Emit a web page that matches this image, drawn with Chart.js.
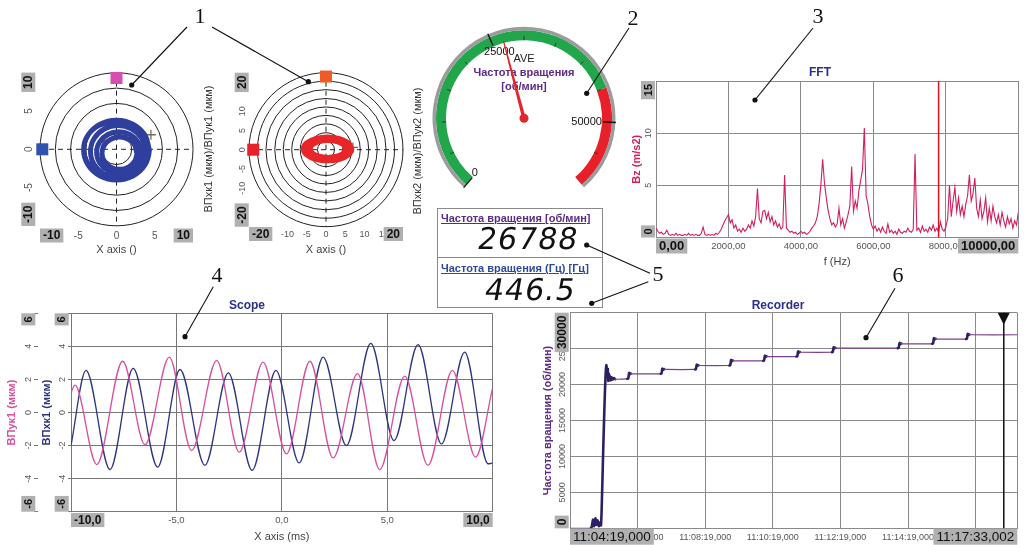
<!DOCTYPE html>
<html>
<head>
<meta charset="utf-8">
<title>Vibration monitor</title>
<script src="https://cdn.jsdelivr.net/npm/chart.js@4.4.1/dist/chart.umd.min.js"></script>
<style>
  html, body { margin: 0; padding: 0; background: #fff; }
  #page { position: relative; width: 1034px; height: 545px; overflow: hidden; font-family: 'Liberation Sans', Arial, sans-serif; }
  .panel { position: absolute; }
  .panel canvas { display: block; }
  .lbl { position: absolute; white-space: nowrap; transform: translate(-50%, -50%); }
  .lbl.rot { transform: translate(-50%, -50%) rotate(-90deg); }
  .ttl { font-weight: bold; font-size: 12px; color: #2b2f8c; }
  .orbt { font-size: 11px; color: #333; }
  #digital { position: absolute; left: 437px; top: 208px; width: 164px; height: 98px; border: 1px solid #8a8a8a; }
  .dcell { position: absolute; left: 0; width: 164px; height: 48px; }
  .dcap { position: absolute; left: 3px; font-size: 11px; font-weight: bold; text-decoration: underline; white-space: nowrap; }
  .dval { position: absolute; font-family: 'DejaVu Sans', sans-serif; font-size: 30px; line-height: 30px; transform: skewX(-10deg); letter-spacing: 1px; color: #111; }
  #notes { position: absolute; left: 0; top: 0; }
</style>
</head>
<body>
<div id="page">
  <div class="panel" style="left:0;top:60px;width:225px;height:205px"><canvas id="orbit1"></canvas></div>
  <div class="panel" style="left:222px;top:60px;width:210px;height:205px"><canvas id="orbit2"></canvas></div>
  <div class="panel" style="left:424px;top:17px;width:200px;height:180px"><canvas id="gauge"></canvas></div>
  <div class="panel" style="left:630px;top:60px;width:404px;height:210px"><canvas id="fft"></canvas></div>
  <div class="panel" style="left:0;top:295px;width:510px;height:250px"><canvas id="scope"></canvas></div>
  <div class="panel" style="left:510px;top:295px;width:524px;height:250px"><canvas id="recorder"></canvas></div>

  <div class="lbl rot orbt" style="left:208px;top:149px">ВПхк1 (мкм)/ВПук1 (мкм)</div>
  <div class="lbl rot orbt" style="left:417px;top:151px">ВПхк2 (мкм)/ВПук2 (мкм)</div>
  <div class="lbl ttl" style="left:820px;top:72px">FFT</div>
  <div class="lbl ttl" style="left:247px;top:305px">Scope</div>
  <div class="lbl ttl" style="left:778px;top:305px">Recorder</div>

  <div id="digital">
    <div class="dcell" style="top:0">
      <div class="dcap" style="top:3px;color:#5c2a87">Частота вращения [об/мин]</div>
      <div class="dval" style="top:15px;right:24px">26788</div>
    </div>
    <div class="dcell" style="top:48px;border-top:1px solid #8a8a8a">
      <div class="dcap" style="top:4px;color:#2b4a9c">Частота вращения (Гц) [Гц]</div>
      <div class="dval" style="top:17px;right:26px">446.5</div>
    </div>
  </div>

  <svg id="notes" width="1034" height="545">
    <g stroke="#111" stroke-width="1.1">
      <line x1="187" y1="27" x2="131.7" y2="85"/>
      <line x1="212" y1="27" x2="308.3" y2="81.7"/>
      <line x1="629" y1="28" x2="586.7" y2="93.3"/>
      <line x1="813" y1="28" x2="755" y2="100"/>
      <line x1="213.3" y1="286.7" x2="185" y2="336.7"/>
      <line x1="650" y1="273.3" x2="586.7" y2="245"/>
      <line x1="648.3" y1="281.7" x2="591.7" y2="303.3"/>
      <line x1="895" y1="288.3" x2="866" y2="337.7"/>
    </g>
    <g fill="#111">
      <circle cx="131.7" cy="85" r="2.6"/><circle cx="308.3" cy="81.7" r="2.6"/>
      <circle cx="586.7" cy="93.3" r="2.6"/><circle cx="755" cy="100" r="2.6"/>
      <circle cx="185" cy="336.7" r="2.6"/><circle cx="586.7" cy="245" r="2.6"/>
      <circle cx="591.7" cy="303.3" r="2.6"/><circle cx="866" cy="337.7" r="2.6"/>
    </g>
    <g font-family="'Liberation Serif', serif" font-size="22" text-anchor="middle" fill="#111">
      <text x="200" y="23">1</text>
      <text x="633" y="25">2</text>
      <text x="818" y="23">3</text>
      <text x="217" y="282">4</text>
      <text x="658" y="281">5</text>
      <text x="898" y="282">6</text>
    </g>
  </svg>
</div>

<script>
// ---------- data ----------

// orbit 1: several revolutions of the shaft (мкм)
const orbit1X = [4.3, 3.72, 2.15, 0, -2.15, -3.72, -4.3, -3.72, -2.15, 0, 2.15, 3.72, 4.3,
  3.9, 3.35, 1.85, -0.2, -2.25, -3.75, -4.3, -3.75, -2.25, -0.2, 1.85, 3.35, 3.9,
  3.8, 3.32, 2.0, 0.2, -1.6, -2.92, -3.4, -2.92, -1.6, 0.2, 2.0, 3.32, 3.8,
  3.2, 2.81, 1.75, 0.3, -1.15, -2.21, -2.6, -2.21, -1.15, 0.3, 1.75, 2.81, 3.2,
  2.7, 2.39, 1.55, 0.4, -0.75, -1.59, -1.9, -1.59, -0.75, 0.4, 1.55, 2.39, 2.7];
const orbit1Y = [-0.1, 1.85, 3.28, 3.8, 3.28, 1.85, -0.1, -2.05, -3.48, -4.0, -3.48, -2.05, -0.1,
  0, 1.8, 3.12, 3.6, 3.12, 1.8, 0, -1.8, -3.12, -3.6, -3.12, -1.8, 0,
  -0.3, 1.4, 2.64, 3.1, 2.64, 1.4, -0.3, -2.0, -3.24, -3.7, -3.24, -2.0, -0.3,
  -0.4, 0.95, 1.94, 2.3, 1.94, 0.95, -0.4, -1.75, -2.74, -3.1, -2.74, -1.75, -0.4,
  -0.5, 0.55, 1.32, 1.6, 1.32, 0.55, -0.5, -1.55, -2.32, -2.6, -2.32, -1.55, -0.5];
const orbit1Rings = [2, 4, 6, 8, 10];
const orbit1MarkX = [0, -9.7];
const orbit1MarkY = [9.3, 0];
const orbit1CursorX = [4.5];
const orbit1CursorY = [1.9];
const orbit1Ticks = [-10, -5, 0, 5, 10];

// orbit 2
const orbit2X = [6.7, 5.86, 3.55, 0.4, -2.75, -5.06, -5.9, -5.06, -2.75, 0.4, 3.55, 5.86, 6.7,
  5.9, 5.18, 3.2, 0.5, -2.2, -4.18, -4.9, -4.18, -2.2, 0.5, 3.2, 5.18, 5.9,
  5.1, 4.48, 2.8, 0.5, -1.8, -3.48, -4.1, -3.48, -1.8, 0.5, 2.8, 4.48, 5.1];
const orbit2Y = [0.2, 1.75, 2.88, 3.3, 2.88, 1.75, 0.2, -1.35, -2.48, -2.9, -2.48, -1.35, 0.2,
  0.3, 1.6, 2.55, 2.9, 2.55, 1.6, 0.3, -1.0, -1.95, -2.3, -1.95, -1.0, 0.3,
  0.2, 1.3, 2.1, 2.4, 2.1, 1.3, 0.2, -0.9, -1.7, -2.0, -1.7, -0.9, 0.2];
const orbit2Rings = [2.2, 4.4, 6.7, 8.9, 11.1, 13.3, 15.6, 17.8, 20];
const orbit2MarkX = [0, -18.9];
const orbit2MarkY = [19, 0];
const orbit2CursorX = [7.0];
const orbit2CursorY = [0.6];
const orbit2XTicks = [-20, -10, -5, 0, 5, 10, 15, 20];
const orbit2YTicks = [-20, -10, -5, 0, 5, 10, 20];

// gauge, об/мин
const gaugeMax = 60000;
const gaugeZones = [45000, 15000];
const gaugeMajor = [0, 25000, 50000];
const gaugeMinor = [5000, 10000, 15000, 20000, 30000, 35000, 40000, 45000, 55000];
const gaugeValue = 26788;
const gaugeRotation = -139, gaugeSweep = 278;

// FFT, bins of 50 Hz from 0 to 10000 Hz, m/s2
const fftStep = 50;
const fftAmp = [
  0.9, 0.6, 0.4, 0.5, 0.3, 0.4, 0.7, 0.3, 0.2, 0.3, 0.2, 0.4, 0.2, 0.3, 0.2, 0.2, 0.3, 0.2, 0.4, 0.2,
  0.3, 0.2, 0.3, 0.2, 0.2, 0.4, 1.0, 0.3, 0.2, 0.3, 0.2, 0.3, 0.2, 0.4, 0.3, 0.5, 0.8, 1.2, 1.6, 1.9,
  2.2, 1.4, 1.7, 0.9, 1.2, 0.6, 0.8, 0.5, 0.9, 0.6, 0.8, 1.2, 0.9, 1.6, 1.1, 2.0, 4.7, 1.8, 1.4, 2.5,
  2.6, 1.8, 2.4, 1.5, 2.0, 1.2, 1.6, 1.0, 1.3, 0.8, 1.0, 6.0, 0.9, 0.7, 0.5, 0.6, 0.4, 0.5, 0.3, 0.4,
  0.6, 0.4, 0.5, 0.3, 0.4, 0.6, 0.9, 1.1, 1.4, 2.0, 3.2, 5.0, 7.5, 5.2, 3.8, 2.6, 1.8, 1.2, 1.4, 1.0,
  1.3, 2.8, 1.2, 1.8, 0.9, 1.5, 2.2, 3.0, 6.8, 2.5, 3.5, 2.8, 4.5, 5.5, 6.5, 10.5, 4.0, 3.2, 2.0, 1.2,
  0.8, 1.1, 0.6, 0.9, 0.5, 1.0, 0.6, 0.4, 1.3, 0.5, 0.7, 0.4, 0.6, 0.3, 0.8, 0.5, 0.4, 0.6, 0.5, 0.9,
  0.6, 0.5, 0.8, 8.0, 0.7, 0.9, 0.5, 1.1, 0.6, 0.8, 0.5, 1.0, 0.7, 1.2, 0.6, 0.9, 0.5, 1.5, 0.8, 0.6,
  1.0, 1.8, 5.0, 2.0, 3.5, 4.8, 2.5, 3.8, 2.2, 3.0, 2.0, 3.2, 4.0, 6.0, 3.5, 4.2, 5.7, 2.8, 2.0, 3.6,
  1.8, 2.5, 3.8, 1.5, 2.8, 1.6, 3.0, 2.0, 1.4, 2.2, 1.2, 2.4, 1.6, 1.0, 2.0, 1.3, 1.8, 0.9, 1.6, 1.2,
  2.4];
const fftCursor = 7800;
const fftXTicks = [0, 2000, 4000, 6000, 8000, 10000];
const fftYTicks = [0, 5, 10, 15];

// scope, ms / мкм (extremes of each half wave)
const scopePinkX = [-10, -9.81, -8.78, -7.55, -6.49, -5.34, -4.28, -3.09, -2.02, -0.89, 0.22, 1.33, 2.43, 3.59, 4.64, 5.83, 6.93, 8.09, 9.19, 10];
const scopePinkY = [1.2, 1.65, -3.15, 3.1, -1.95, 3.35, -2.3, 3.15, -2.4, 3.05, -2.5, 3.1, -2.75, 2.35, -3.45, 2.2, -3.2, 2.55, -2.7, 1.5];
const scopeNavyX = [-10, -9.29, -8.15, -7.05, -5.89, -4.83, -3.65, -2.54, -1.41, -0.28, 0.82, 1.96, 3.06, 4.22, 5.32, 6.46, 7.57, 8.67, 9.78, 10];
const scopeNavyY = [-2.0, 2.55, -3.45, 2.67, -3.3, 2.6, -3.2, 2.4, -3.5, 2.55, -3.05, 3.35, -2.0, 4.18, -1.7, 4.1, -1.9, 3.65, -3.1, -3.05];
const scopeXTicks = [-10, -5, 0, 5, 10];
const scopeYTicks = [-6, -4, -2, 0, 2, 4, 6];

// recorder: seconds after 11:04:19,000 / об/мин
const recT = [0, 37, 39, 41, 43, 45, 47, 49, 51, 53, 55, 57, 59, 61, 63, 64.5, 66, 67, 68, 69, 70, 71, 72.5, 74, 76, 78, 80,
  102, 103.5, 105, 106.5, 108, 109.5,
  161, 162.5, 164, 165.5, 167, 168.5,
  222, 223.5, 225, 226.5, 228, 229.5,
  283, 284.5, 286, 287.5, 289, 290.5,
  343, 344.5, 346, 347.5, 349, 350.5,
  402, 403.5, 405, 406.5, 408, 409.5,
  465, 466.5, 468, 469.5, 471, 472.5,
  582, 583.5, 585, 586.5, 588, 589.5,
  643, 644.5, 646, 647.5, 649, 650.5,
  703, 704.5, 706, 707.5, 709, 710.5,
  794.002];
const recV = [0, 0, 400, 1200, 300, 1400, 500, 1100, 300, 800, 400, 5000, 11000, 16500, 21000, 22700, 21400, 22200, 20500, 21500, 20600, 21200, 20600, 21000, 20700, 20900, 20750,
  20800, 20870, 21620, 21460, 21540, 21500,
  21500, 21570, 22220, 22060, 22140, 22100,
  22100, 22170, 22770, 22610, 22690, 22650,
  22650, 22720, 23420, 23260, 23340, 23300,
  23300, 23370, 24020, 23860, 23940, 23900,
  23900, 23970, 24620, 24460, 24540, 24500,
  24500, 24570, 25190, 25030, 25110, 25070,
  25070, 25140, 25790, 25630, 25710, 25670,
  25670, 25740, 26450, 26290, 26370, 26330,
  26330, 26400, 27050, 26890, 26970, 26930,
  26930];
const recCursor = 770;
const recXTicks = [0, 120, 240, 360, 480, 600, 720, 794.002];
const recYTicks = [0, 5000, 10000, 15000, 20000, 25000, 30000];
const recStart = 11 * 3600 + 4 * 60 + 19;

// ---------- helpers ----------
Chart.defaults.font.family = "'Liberation Sans', Arial, sans-serif";
Chart.defaults.animation = false;
Chart.defaults.events = [];
Chart.defaults.plugins.legend.display = false;
Chart.defaults.plugins.tooltip.enabled = false;

const pts = (xs, ys) => xs.map((x, i) => ({x, y: ys[i]}));
const comma = d => v => v.toFixed(d).replace('.', ',');
const pad2 = n => String(n).padStart(2, '0');
function fmtTime(t) {
  const ms = Math.round((recStart + t) * 1000);
  const h = Math.floor(ms / 3600000), m = Math.floor(ms / 60000) % 60, s = Math.floor(ms / 1000) % 60;
  return `${h}:${pad2(m)}:${pad2(s)},${String(ms % 1000).padStart(3, '0')}`;
}
const FONT = "'Liberation Sans', Arial, sans-serif";

// tick labels: horizontal on x, rotated on y, grey boxes on both ends (drawn last)
const tickLabels = {
  id: 'tickLabels',
  afterDraw(chart, args, opts) {
    const ctx = chart.ctx, area = chart.chartArea;
    (opts.axes || []).forEach(a => {
      const sc = chart.scales[a.scale];
      const vals = a.values, n = vals.length;
      const order = [];
      for (let i = 1; i < n - 1; i++) order.push(i);
      order.push(0, n - 1);
      order.forEach(i => {
        const end = i === 0 || i === n - 1;
        const txt = a.fmt ? a.fmt(vals[i]) : String(vals[i]);
        const p = sc.getPixelForValue(vals[i]);
        ctx.save();
        ctx.font = (end ? a.endFont : a.font) + ' ' + FONT;
        const w = ctx.measureText(txt).width;
        if (sc.isHorizontal()) ctx.translate(p, area.bottom + a.gap);
        else { ctx.translate(area.left - a.gap, p); ctx.rotate(-Math.PI / 2); }
        let x0 = -w / 2;
        if (end) {
          const bp = 3, bh = a.boxH || 14;
          const bx = i === 0 ? 0 : -w - 2 * bp;
          ctx.fillStyle = '#b0b0b0';
          ctx.fillRect(bx, -bh / 2, w + 2 * bp, bh);
          x0 = bx + bp;
        }
        ctx.fillStyle = end ? '#111' : (a.color || '#555');
        ctx.textBaseline = 'middle';
        ctx.textAlign = 'left';
        ctx.fillText(txt, x0, 0.5);
        ctx.restore();
      });
    });
  }
};

// orbit background: rings and dashed centre axes
const orbitGrid = {
  id: 'orbitGrid',
  beforeDatasetsDraw(chart, args, opts) {
    const {x, y} = chart.scales, ctx = chart.ctx;
    const cx = x.getPixelForValue(0), cy = y.getPixelForValue(0);
    ctx.save();
    ctx.strokeStyle = '#222';
    ctx.lineWidth = 1;
    opts.rings.forEach(r => {
      ctx.beginPath();
      ctx.arc(cx, cy, x.getPixelForValue(r) - cx, 0, Math.PI * 2);
      ctx.stroke();
    });
    ctx.setLineDash([5, 4]);
    ctx.beginPath();
    ctx.moveTo(cx, y.getPixelForValue(y.max)); ctx.lineTo(cx, y.getPixelForValue(y.min));
    ctx.moveTo(x.getPixelForValue(x.min), cy); ctx.lineTo(x.getPixelForValue(x.max), cy);
    ctx.stroke();
    ctx.restore();
  }
};

// vertical cursor line, optional triangle on top
const cursorLine = {
  id: 'cursorLine',
  afterDatasetsDraw(chart, args, opts) {
    const sc = chart.scales.x, area = chart.chartArea, ctx = chart.ctx;
    const px = sc.getPixelForValue(opts.value);
    ctx.save();
    ctx.strokeStyle = opts.color;
    ctx.lineWidth = opts.width;
    ctx.beginPath(); ctx.moveTo(px, area.top); ctx.lineTo(px, area.bottom); ctx.stroke();
    if (opts.triangle) {
      ctx.fillStyle = opts.color;
      ctx.beginPath();
      ctx.moveTo(px - 6, area.top); ctx.lineTo(px + 6, area.top); ctx.lineTo(px, area.top + 12);
      ctx.closePath(); ctx.fill();
    }
    ctx.restore();
  }
};

function orbitChart(id, o) {
  return new Chart(document.getElementById(id), {
    type: 'scatter',
    data: {
      datasets: [
        { data: pts(o.x, o.y), showLine: true, tension: 0.4, borderColor: o.color, borderWidth: o.lw, borderJoinStyle: 'round', pointRadius: 0 },
        { data: pts(o.markX, o.markY), pointStyle: 'rect', pointRadius: 8.5, borderWidth: 0, backgroundColor: o.markColors, clip: false },
        { data: pts(o.curX, o.curY), pointStyle: 'cross', pointRadius: 5, borderWidth: 1.3, borderColor: '#6e6e4a' }
      ]
    },
    options: {
      responsive: true, maintainAspectRatio: false,
      layout: { padding: o.padding },
      scales: {
        x: { type: 'linear', min: -o.range, max: o.range,
             ticks: { display: false }, grid: { display: false }, border: { display: false },
             title: { display: true, text: 'X axis ()', color: '#444', font: { size: 11 }, padding: { top: 0, bottom: 8.4 } },
             afterFit: s => { s.height = o.xh; } },
        y: { type: 'linear', min: -o.range, max: o.range, display: false }
      },
      plugins: {
        orbitGrid: { rings: o.rings },
        tickLabels: { axes: [
          { scale: 'x', values: o.xTicks, gap: o.gap, font: o.font, endFont: 'bold 12px' },
          { scale: 'y', values: o.yTicks, gap: o.ygap, font: o.font, endFont: 'bold 12px' }
        ] }
      }
    },
    plugins: [orbitGrid, tickLabels]
  });
}

orbitChart('orbit1', {
  x: orbit1X, y: orbit1Y, color: '#2f3f9e', lw: 5,
  markX: orbit1MarkX, markY: orbit1MarkY, markColors: ['#d64fb0', '#3051b0'],
  curX: orbit1CursorX, curY: orbit1CursorY, rings: orbit1Rings, range: 10,
  padding: { left: 40, right: 32, top: 12.6, bottom: 0 }, xh: 39,
  xTicks: orbit1Ticks, yTicks: orbit1Ticks, gap: 9.5, ygap: 11.7, font: '10px'
});
orbitChart('orbit2', {
  x: orbit2X, y: orbit2Y, color: '#e8262a', lw: 5,
  markX: orbit2MarkX, markY: orbit2MarkY, markColors: ['#f05a28', '#e8202a'],
  curX: orbit2CursorX, curY: orbit2CursorY, rings: orbit2Rings, range: 20,
  padding: { left: 27, right: 29, top: 12.7, bottom: 0 }, xh: 38.3,
  xTicks: orbit2XTicks, yTicks: orbit2YTicks, gap: 7.3, ygap: 7.3, font: '9px'
});

// ---------- gauge ----------
const gaugeDial = {
  id: 'gaugeDial',
  afterDatasetsDraw(chart) {
    const band = chart.getDatasetMeta(1).data[0];
    const cx = band.x, cy = band.y, rIn = band.innerRadius, rOut = band.outerRadius;
    const ctx = chart.ctx;
    const ang = v => (gaugeRotation - 90 + v / gaugeMax * gaugeSweep) * Math.PI / 180;
    const tick = (v, r1, r2) => {
      const a = ang(v);
      ctx.beginPath();
      ctx.moveTo(cx + Math.cos(a) * r1, cy + Math.sin(a) * r1);
      ctx.lineTo(cx + Math.cos(a) * r2, cy + Math.sin(a) * r2);
      ctx.stroke();
    };
    ctx.save();
    ctx.strokeStyle = '#333';
    ctx.lineWidth = 1;
    gaugeMinor.forEach(v => tick(v, rIn, rIn + 4));
    ctx.strokeStyle = '#111';
    ctx.lineWidth = 1.3;
    gaugeMajor.forEach(v => tick(v, rIn + 1, rOut + 4));

    ctx.textAlign = 'center';
    ctx.textBaseline = 'middle';
    ctx.fillStyle = '#111';
    ctx.font = '11px ' + FONT;
    gaugeMajor.forEach(v => {
      const a = ang(v), txt = String(v), w = ctx.measureText(txt).width;
      ctx.fillText(txt, cx + Math.cos(a) * (rIn - w / 2), cy + Math.sin(a) * (rIn - 6));
    });
    ctx.fillStyle = '#222';
    ctx.fillText('AVE', cx, cy - 59);
    ctx.fillStyle = '#5c2a87';
    ctx.font = 'bold 11px ' + FONT;
    ctx.fillText('Частота вращения', cx, cy - 45.6);
    ctx.fillText('[об/мин]', cx, cy - 31.6);

    // needle
    const a = ang(gaugeValue), L = rIn + 2;
    const nx = Math.cos(a), ny = Math.sin(a);
    ctx.fillStyle = '#e3262b';
    ctx.beginPath();
    ctx.moveTo(cx - ny * 1.8, cy + nx * 1.8);
    ctx.lineTo(cx + nx * L - ny * 0.6, cy + ny * L + nx * 0.6);
    ctx.lineTo(cx + nx * L + ny * 0.6, cy + ny * L - nx * 0.6);
    ctx.lineTo(cx + ny * 1.8, cy - nx * 1.8);
    ctx.closePath();
    ctx.fill();
    ctx.beginPath();
    ctx.arc(cx, cy, 4.5, 0, Math.PI * 2);
    ctx.fill();
    ctx.restore();
  }
};

new Chart(document.getElementById('gauge'), {
  type: 'doughnut',
  data: {
    datasets: [
      { data: [gaugeMax], backgroundColor: ['#9c9c9c'], borderWidth: 0, weight: 3.5 },
      { data: gaugeZones, backgroundColor: ['#22a64b', '#e8202a'], borderWidth: 0, weight: 10 }
    ]
  },
  options: {
    responsive: true, maintainAspectRatio: false,
    rotation: gaugeRotation, circumference: gaugeSweep,
    radius: 91.5, cutout: '85.25%',
    layout: { padding: 0 }
  },
  plugins: [gaugeDial]
});

// ---------- FFT ----------
new Chart(document.getElementById('fft'), {
  type: 'line',
  data: {
    datasets: [{ data: fftAmp.map((v, i) => ({x: i * fftStep, y: v})), borderColor: '#d21d5e', borderWidth: 1.1, pointRadius: 0, tension: 0 }]
  },
  options: {
    responsive: true, maintainAspectRatio: false,
    layout: { padding: { left: 0, right: 15.7, top: 21, bottom: 0 } },
    scales: {
      x: { type: 'linear', min: 0, max: 10000, ticks: { display: false, stepSize: 2000 },
           grid: { color: '#8a8a8a', drawTicks: false }, border: { color: '#8a8a8a' },
           title: { display: true, text: 'f (Hz)', color: '#444', font: { size: 11 }, padding: { top: 0, bottom: 1.7 } },
           afterFit: s => { s.height = 32.5; } },
      y: { min: 0, max: 15, ticks: { display: false, stepSize: 5 },
           grid: { color: '#8a8a8a', drawTicks: false }, border: { color: '#8a8a8a' },
           title: { display: true, text: 'Bz (m/s2)', color: '#d21d5e', font: { size: 11, weight: 'bold' }, padding: { top: 0.4, bottom: 0 } },
           afterFit: s => { s.width = 26; } }
    },
    plugins: {
      cursorLine: { value: fftCursor, color: '#e0101e', width: 1.5 },
      tickLabels: { axes: [
        { scale: 'x', values: fftXTicks, fmt: comma(2), gap: 8.5, font: '9.5px', endFont: 'bold 13px', boxH: 15 },
        { scale: 'y', values: fftYTicks, gap: 8, font: '9px', endFont: 'bold 11px' }
      ] }
    }
  },
  plugins: [cursorLine, tickLabels]
});

// ---------- Scope ----------
new Chart(document.getElementById('scope'), {
  type: 'line',
  data: {
    datasets: [
      { data: pts(scopePinkX, scopePinkY), yAxisID: 'y2', borderColor: '#d6509d', borderWidth: 1.3, pointRadius: 0, cubicInterpolationMode: 'monotone' },
      { data: pts(scopeNavyX, scopeNavyY), yAxisID: 'y', borderColor: '#2e3580', borderWidth: 1.3, pointRadius: 0, cubicInterpolationMode: 'monotone' }
    ]
  },
  options: {
    responsive: true, maintainAspectRatio: false,
    layout: { padding: { left: 0, right: 17.3, top: 18.3, bottom: 0 } },
    scales: {
      x: { type: 'linear', min: -10, max: 10, ticks: { display: false, stepSize: 5 },
           grid: { color: '#777', drawTicks: false }, border: { color: '#777' },
           title: { display: true, text: 'X axis (ms)', color: '#444', font: { size: 11 }, padding: { top: 0, bottom: 1.7 } },
           afterFit: s => { s.height = 33.3; } },
      y: { position: 'left', weight: 0, min: -6, max: 6, ticks: { display: false, stepSize: 2 },
           grid: { color: '#777', tickLength: 3, tickColor: '#777' }, border: { color: '#777' },
           title: { display: true, text: 'ВПхк1 (мкм)', color: '#2e3580', font: { size: 11, weight: 'bold' }, padding: { top: 2.1, bottom: 0 } },
           afterFit: s => { s.width = 33; } },
      y2: { position: 'left', weight: 1, min: -6, max: 6, ticks: { display: false, stepSize: 2 },
            grid: { drawOnChartArea: false, tickLength: 4, tickColor: '#777' }, border: { display: false },
            title: { display: true, text: 'ВПук1 (мкм)', color: '#d6509d', font: { size: 11, weight: 'bold' }, padding: { top: 5.1, bottom: 0 } },
            afterFit: s => { s.width = 38; } }
    },
    plugins: {
      tickLabels: { axes: [
        { scale: 'x', values: scopeXTicks, fmt: comma(1), gap: 8.3, font: '9.5px', endFont: 'bold 12px', boxH: 14 },
        { scale: 'y', values: scopeYTicks, gap: 9.3, font: '9px', endFont: 'bold 11px' },
        { scale: 'y2', values: scopeYTicks, gap: 42.7, font: '9px', endFont: 'bold 11px' }
      ] }
    }
  },
  plugins: [tickLabels]
});

// ---------- Recorder ----------
const steep = c => Math.abs(c.p1.parsed.y - c.p0.parsed.y) > 50;
new Chart(document.getElementById('recorder'), {
  type: 'line',
  data: {
    datasets: [{
      data: pts(recT, recV), pointRadius: 0, tension: 0.3, borderColor: '#7b3f8f', borderWidth: 1.2,
      borderJoinStyle: 'round', borderCapStyle: 'round',
      segment: {
        borderColor: c => steep(c) ? '#2d1f63' : '#7b3f8f',
        borderWidth: c => steep(c) ? 2.6 : 1.2
      }
    }]
  },
  options: {
    responsive: true, maintainAspectRatio: false,
    layout: { padding: { left: 30, right: 16.7, top: 17.7, bottom: 0 } },
    scales: {
      x: { type: 'linear', min: 0, max: 794.002,
           afterBuildTicks: s => { s.ticks = recXTicks.map(v => ({value: v})); },
           ticks: { display: false }, grid: { color: '#8a8a8a', drawTicks: false }, border: { color: '#8a8a8a' },
           afterFit: s => { s.height = 16.7; } },
      y: { min: 0, max: 30000, ticks: { display: false, stepSize: 5000 },
           grid: { color: '#8a8a8a', drawTicks: false }, border: { color: '#8a8a8a' },
           title: { display: true, text: 'Частота вращения (об/мин)', color: '#5c2a87', font: { size: 11, weight: 'bold' }, padding: { top: 1.7, bottom: 0 } },
           afterFit: s => { s.width = 30; } }
    },
    plugins: {
      cursorLine: { value: recCursor, color: '#111', width: 1.5, triangle: true },
      tickLabels: { axes: [
        { scale: 'x', values: recXTicks, fmt: fmtTime, gap: 8.4, font: '9px', endFont: '13.5px', boxH: 16 },
        { scale: 'y', values: recYTicks, gap: 8.3, font: '9px', endFont: 'bold 12px' }
      ] }
    }
  },
  plugins: [cursorLine, tickLabels]
});
</script>
</body>
</html>
